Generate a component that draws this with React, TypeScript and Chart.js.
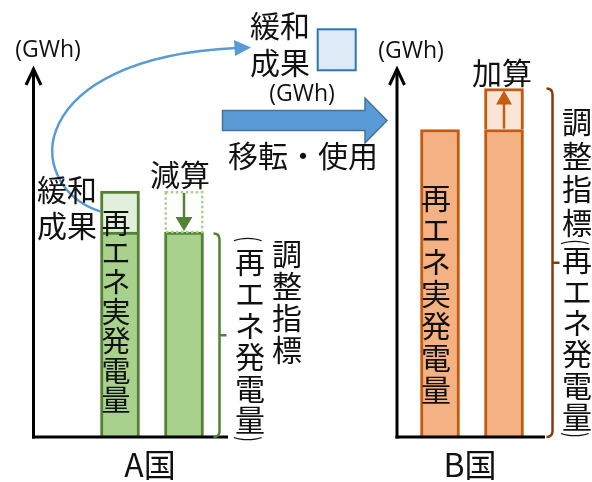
import { useEffect, useRef } from 'react';
import { Chart, registerables } from 'chart.js';

Chart.register(...registerables);

// Slots along the x axis: two bars per country, empty slots between them.
const slots = ['A国 実績', 'A国 調整後', '', '', '', 'B国 実績', 'B国 調整後'];
// Renewable generation counted in each bar (GWh).
const renewableGWh = [100, 100, null, null, null, 150, 150];
// Mitigation outcome stacked on top: shown in A, removed from A, added to B (GWh).
const mitigationGWh = [20, 20, null, null, null, null, 20];
const yMaxGWh = 180;
const countryLabels = ['A国', 'B国'];
const unitLabel = '(GWh)';

const JP = '"Noto Sans CJK JP", "Noto Sans CJK SC", sans-serif';
const LATIN = '"Open Sans", "DejaVu Sans", sans-serif';

const GREEN = '#a9d18e';
const GREEN_EDGE = '#548235';
const GREEN_LIGHT = '#e2efda';
const ORANGE = '#f4b183';
const ORANGE_EDGE = '#c55a11';
const ORANGE_LIGHT = '#fbe5d6';
const BROWN = '#843c0c';
const BLUE = '#5b9bd5';
const BLUE_EDGE = '#41719c';

const baseFill = [GREEN, GREEN, '', '', '', ORANGE, ORANGE];
const baseEdge = [GREEN_EDGE, GREEN_EDGE, '', '', '', ORANGE_EDGE, ORANGE_EDGE];
const topFill = [GREEN_LIGHT, 'rgba(0,0,0,0)', '', '', '', '', ORANGE_LIGHT];
const topEdge = [GREEN_EDGE, 'rgba(0,0,0,0)', '', '', '', '', ORANGE_EDGE];
const topBorder = [3, 0, 0, 0, 0, 0, 3];

type Ctx = CanvasRenderingContext2D;

function column(ctx: Ctx, text: string, cx: number, cy0: number, pitch: number, size: number) {
  ctx.font = `${size}px ${JP}`;
  [...text].forEach((ch, i) => ctx.fillText(ch, cx, cy0 + i * pitch));
}

// Parenthesis turned for vertical writing.
function turnedParen(ctx: Ctx, ch: string, cx: number, cy: number, size: number) {
  ctx.save();
  ctx.translate(cx, cy);
  ctx.rotate(Math.PI / 2);
  ctx.scale(0.6, 1);
  ctx.font = `${size}px ${JP}`;
  ctx.fillText(ch, 0, 0);
  ctx.restore();
}

function bracket(ctx: Ctx, x: number, top: number, bottom: number, color: string) {
  const r = 6;
  ctx.save();
  ctx.strokeStyle = color;
  ctx.lineWidth = 2.5;
  ctx.beginPath();
  ctx.moveTo(x - r, top);
  ctx.quadraticCurveTo(x, top, x, top + r);
  ctx.lineTo(x, bottom - r);
  ctx.quadraticCurveTo(x, bottom, x - r, bottom);
  const mid = (top + bottom) / 2;
  ctx.moveTo(x, mid);
  ctx.lineTo(x + 7, mid);
  ctx.stroke();
  ctx.restore();
}

function axis(ctx: Ctx, x: number, top: number, bottom: number, right: number) {
  ctx.save();
  ctx.strokeStyle = '#000';
  ctx.lineWidth = 3;
  ctx.beginPath();
  ctx.moveTo(x, bottom + 1.5);
  ctx.lineTo(x, top + 1);
  ctx.stroke();
  ctx.beginPath();
  ctx.moveTo(x - 7.5, top + 17);
  ctx.lineTo(x, top + 1);
  ctx.lineTo(x + 7.5, top + 17);
  ctx.stroke();
  ctx.beginPath();
  ctx.moveTo(x - 1.5, bottom);
  ctx.lineTo(right, bottom);
  ctx.stroke();
  ctx.restore();
}

const annotate = {
  id: 'annotate',
  afterDatasetsDraw(chart: any) {
    const ctx: Ctx = chart.ctx;
    const yScale = chart.scales.y;
    const area = chart.chartArea;
    const zero = yScale.getPixelForValue(0);
    const bars = chart.getDatasetMeta(0).data.map((e: any) => e.getProps(['x', 'y', 'base', 'width'], true));
    const tops = chart.getDatasetMeta(1).data.map((e: any) => e.getProps(['x', 'y', 'base', 'width'], true));
    const a1 = bars[0], a2 = bars[1], b1 = bars[5];
    const aShown = tops[0], aRemoved = tops[1], bAdded = tops[6];

    // Removed share, dotted outline + downward arrow
    ctx.save();
    ctx.strokeStyle = GREEN;
    ctx.lineWidth = 2.5;
    ctx.setLineDash([2.5, 2.5]);
    const w = aRemoved.width;
    ctx.strokeRect(aRemoved.x - w / 2 + 1.25, aRemoved.y + 1.25, w - 2.5, aRemoved.base - aRemoved.y - 1.25);
    ctx.restore();

    ctx.save();
    ctx.strokeStyle = GREEN_EDGE;
    ctx.fillStyle = GREEN_EDGE;
    ctx.lineWidth = 2.5;
    ctx.beginPath();
    ctx.moveTo(aRemoved.x, aRemoved.y + 2);
    ctx.lineTo(aRemoved.x, aRemoved.base - 12);
    ctx.stroke();
    ctx.beginPath();
    ctx.moveTo(aRemoved.x, aRemoved.base - 1);
    ctx.lineTo(aRemoved.x - 8.5, aRemoved.base - 15);
    ctx.lineTo(aRemoved.x + 8.5, aRemoved.base - 15);
    ctx.closePath();
    ctx.fill();
    ctx.restore();

    // Added share, upward arrow
    ctx.save();
    ctx.strokeStyle = ORANGE_EDGE;
    ctx.fillStyle = ORANGE_EDGE;
    ctx.lineWidth = 2.5;
    ctx.beginPath();
    ctx.moveTo(bAdded.x, bAdded.base - 1);
    ctx.lineTo(bAdded.x, bAdded.y + 12);
    ctx.stroke();
    ctx.beginPath();
    ctx.moveTo(bAdded.x, bAdded.y + 2);
    ctx.lineTo(bAdded.x - 8, bAdded.y + 16);
    ctx.lineTo(bAdded.x + 8, bAdded.y + 16);
    ctx.closePath();
    ctx.fill();
    ctx.restore();

    // Axes
    axis(ctx, 33.5, area.top, zero, 228);
    axis(ctx, 397, area.top, zero, 545);

    // Brackets for the adjusted indicator
    bracket(ctx, 219.5, a2.y + 1.5, zero, GREEN_EDGE);
    bracket(ctx, 552.5, bAdded.y, zero, BROWN);

    // Transfer: curved arrow from A's mitigation share to the legend box
    const sx = aShown.x - aShown.width / 2;
    const sy = (aShown.y + aShown.base) / 2;
    ctx.save();
    ctx.strokeStyle = BLUE;
    ctx.fillStyle = BLUE;
    ctx.lineWidth = 2.5;
    ctx.beginPath();
    ctx.moveTo(sx, sy);
    ctx.bezierCurveTo(20, 185, 25, 58, 236, 48);
    ctx.stroke();
    ctx.beginPath();
    ctx.moveTo(251, 47.5);
    ctx.lineTo(234, 40);
    ctx.lineTo(235, 56);
    ctx.closePath();
    ctx.fill();
    ctx.restore();

    // Legend box
    ctx.save();
    ctx.fillStyle = '#deebf7';
    ctx.strokeStyle = '#2e75b6';
    ctx.lineWidth = 2;
    ctx.fillRect(317.7, 29.3, 38, 41);
    ctx.strokeRect(317.7, 29.3, 38, 41);
    ctx.restore();

    // Block arrow
    ctx.save();
    ctx.fillStyle = BLUE;
    ctx.strokeStyle = BLUE_EDGE;
    ctx.lineWidth = 1.5;
    ctx.beginPath();
    ctx.moveTo(222.5, 110.5);
    ctx.lineTo(365, 110.5);
    ctx.lineTo(365, 98);
    ctx.lineTo(387, 120.5);
    ctx.lineTo(365, 143);
    ctx.lineTo(365, 130.5);
    ctx.lineTo(222.5, 130.5);
    ctx.closePath();
    ctx.fill();
    ctx.stroke();
    ctx.restore();

    // Text
    ctx.save();
    ctx.fillStyle = '#111';
    ctx.textAlign = 'center';
    ctx.textBaseline = 'middle';

    ctx.font = `23px ${LATIN}`;
    ctx.fillText(unitLabel, 48, 50);
    ctx.fillText(unitLabel, 411, 51);
    ctx.fillText(unitLabel, 302, 94);

    ctx.font = `30px ${JP}`;
    ctx.fillText('緩和', 280, 26);
    ctx.fillText('成果', 280, 63);
    ctx.fillText('緩和', 67, 190);
    ctx.fillText('成果', 67, 226);
    ctx.fillText('移転・使用', 303, 156);
    ctx.fillText('減算', aRemoved.x - 4, aRemoved.y - 16);
    ctx.fillText('加算', bAdded.x - 2, bAdded.y - 16);

    column(ctx, '再エネ実発電量', a1.x - 4, 223, 29.5, 29);
    column(ctx, '再エネ実発電量', b1.x - 4, 197.5, 32, 30);

    column(ctx, '調整指標', 287, 254, 32, 30);
    turnedParen(ctx, '(', 250, 239, 28);
    column(ctx, '再エネ発電量', 250, 262, 31.6, 30);
    turnedParen(ctx, ')', 250, 439, 28);

    column(ctx, '調整指標', 577, 122, 33.5, 30);
    turnedParen(ctx, '(', 577, 242, 28);
    column(ctx, '再エネ発電量', 577, 260, 31.3, 30);
    turnedParen(ctx, ')', 577, 435, 28);

    ctx.textBaseline = 'alphabetic';
    ctx.font = `32px ${JP}`;
    ctx.fillText(countryLabels[0], (a1.x + a2.x) / 2 - 2, 477);
    ctx.fillText(countryLabels[1], (b1.x + bars[6].x) / 2 - 2, 477);
    ctx.restore();
  },
};

export default function App() {
  const ref = useRef<HTMLCanvasElement>(null);

  useEffect(() => {
    if (!ref.current) return;
    const chart = new Chart(ref.current, {
      type: 'bar',
      data: {
        labels: slots,
        datasets: [
          {
            label: '再エネ実発電量',
            data: renewableGWh,
            backgroundColor: baseFill,
            borderColor: baseEdge,
            borderWidth: 3,
            barThickness: 39,
            stack: 'gen',
          },
          {
            label: '緩和成果',
            data: mitigationGWh,
            backgroundColor: topFill,
            borderColor: topEdge,
            borderWidth: topBorder,
            barThickness: 39,
            stack: 'gen',
          },
        ],
      },
      options: {
        responsive: false,
        animation: false,
        devicePixelRatio: 1,
        events: [],
        layout: { padding: { left: 88, right: 56, top: 68, bottom: 45 } },
        plugins: { legend: { display: false }, tooltip: { enabled: false }, title: { display: false } },
        scales: {
          x: { display: false, stacked: true },
          y: { display: false, stacked: true, min: 0, max: yMaxGWh },
        },
      },
      plugins: [annotate],
    } as any);
    return () => chart.destroy();
  }, []);

  return (
    <div style={{ position: 'fixed', left: 0, top: 0, width: 592, height: 482, background: '#fff', overflow: 'hidden' }}>
      <canvas ref={ref} width={592} height={482} style={{ display: 'block', width: 592, height: 482 }} />
    </div>
  );
}
